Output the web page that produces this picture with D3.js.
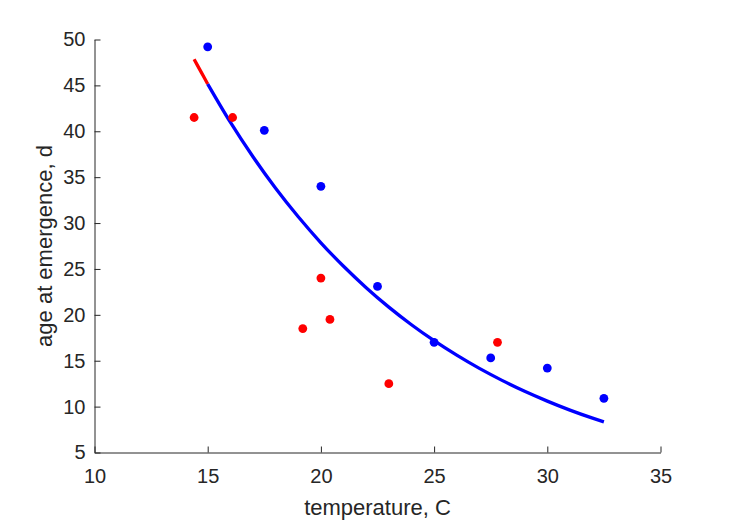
<!DOCTYPE html>
<html>
<head>
<meta charset="utf-8">
<script src="https://cdn.jsdelivr.net/npm/d3@7"></script>
<style>
  html, body { margin: 0; padding: 0; background: #ffffff; }
  svg { display: block; }
</style>
</head>
<body>
<svg id="chart" width="729" height="521"></svg>
<script>
// ---- data ----
const blueTemp = [15, 17.5, 20, 22.5, 25, 27.5, 30, 32.5];
const blueAge  = [49.2, 40.1, 34.0, 23.1, 17.0, 15.3, 14.2, 10.9];

const redTemp = [14.4, 16.1, 19.2, 20.0, 20.4, 23.0, 27.8];
const redAge  = [41.5, 41.5, 18.5, 24.0, 19.5, 12.5, 17.0];

// fitted curve
const redFitTemp = [14.4, 14.7, 15];
const redFitAge  = [47.85, 46.5, 45.15];
const blueFitTemp = [15, 16, 17, 18, 19, 20, 21, 22, 23, 24, 25, 26, 27, 28, 29, 30, 31, 32, 32.5];
const blueFitAge  = [45.15, 40.99, 37.22, 33.79, 30.68, 27.85, 25.29, 22.96, 20.84, 18.92,
                     17.18, 15.60, 14.16, 12.86, 11.67, 10.60, 9.62, 8.74, 8.33];

const xTicks = [10, 15, 20, 25, 30, 35];
const yTicks = [5, 10, 15, 20, 25, 30, 35, 40, 45, 50];
const xLabel = "temperature, C";
const yLabel = "age at emergence, d";

// ---- drawing ----
const svg = d3.select("#chart");
const axisColor = "#262626";
const fontFamily = "'Liberation Sans', Arial, Helvetica, sans-serif";

const x = d3.scaleLinear().domain([10, 35]).range([94.5, 660.5]);
const y = d3.scaleLinear().domain([5, 50]).range([452.5, 39.5]);

// axes
const xAxis = d3.axisBottom(x).tickValues(xTicks).tickFormat(d3.format("d"))
  .tickSizeInner(-6).tickSizeOuter(0).tickPadding(16);
const yAxis = d3.axisLeft(y).tickValues(yTicks).tickFormat(d3.format("d"))
  .tickSizeInner(-6).tickSizeOuter(0).tickPadding(9);

const gx = svg.append("g").attr("transform", "translate(0,452.5)").call(xAxis);
const gy = svg.append("g").attr("transform", "translate(94.5,0)").call(yAxis);

[gx, gy].forEach(g => {
  g.select(".domain").attr("stroke", axisColor).attr("stroke-width", 1);
  g.selectAll(".tick line").attr("stroke", axisColor).attr("stroke-width", 1);
  g.selectAll(".tick text").attr("fill", axisColor)
    .style("font-family", fontFamily).style("font-size", "20px");
});

// axis labels
svg.append("text")
  .attr("x", (x.range()[0] + x.range()[1]) / 2)
  .attr("y", 515)
  .attr("text-anchor", "middle")
  .attr("fill", axisColor)
  .style("font-family", fontFamily).style("font-size", "22px")
  .text(xLabel);

svg.append("text")
  .attr("transform", `translate(52,${(y.range()[0] + y.range()[1]) / 2}) rotate(-90)`)
  .attr("text-anchor", "middle")
  .attr("fill", axisColor)
  .style("font-family", fontFamily).style("font-size", "22px")
  .text(yLabel);

// curves
const line = d3.line().x(d => x(d[0])).y(d => y(d[1])).curve(d3.curveMonotoneX);

svg.append("path")
  .datum(d3.zip(redFitTemp, redFitAge))
  .attr("d", line)
  .attr("fill", "none").attr("stroke", "#ff0000").attr("stroke-width", 3.3);

svg.append("path")
  .datum(d3.zip(blueFitTemp, blueFitAge))
  .attr("d", line)
  .attr("fill", "none").attr("stroke", "#0000ff").attr("stroke-width", 3.3);

// points
svg.append("g").selectAll("circle")
  .data(d3.zip(blueTemp, blueAge))
  .join("circle")
  .attr("cx", d => x(d[0])).attr("cy", d => y(d[1])).attr("r", 4.4)
  .attr("fill", "#0000ff");

svg.append("g").selectAll("circle")
  .data(d3.zip(redTemp, redAge))
  .join("circle")
  .attr("cx", d => x(d[0])).attr("cy", d => y(d[1])).attr("r", 4.4)
  .attr("fill", "#ff0000");
</script>
</body>
</html>
